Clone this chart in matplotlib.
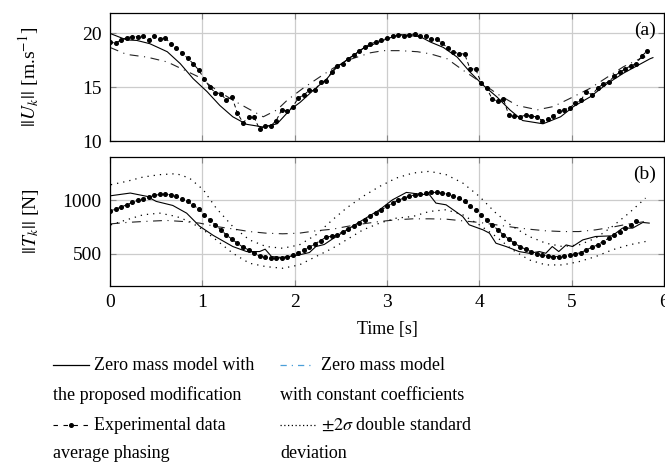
import numpy as np
import matplotlib
matplotlib.use('Agg')
import matplotlib.pyplot as plt
from matplotlib.lines import Line2D

plt.rcParams['font.family'] = ['Liberation Serif', 'DejaVu Serif']
plt.rcParams['mathtext.fontset'] = 'stix'

# --- panel (a): velocity ---
u_exp = [19.2, 19.1, 19.4, 19.6, 19.7, 19.7, 19.8, 19.4, 19.8, 19.5,
         19.6, 19.0, 18.6, 18.2, 17.7, 17.2, 16.6, 15.8, 15.0, 14.5,
         14.4, 13.8, 14.1, 12.6, 11.7, 12.2, 12.2, 11.1, 11.4, 11.4,
         11.9, 12.9, 12.8, 13.2, 14.0, 14.3, 14.7, 14.7, 15.5, 15.6,
         16.4, 17.0, 17.2, 17.65, 17.96, 18.36, 18.73, 19.04, 19.2, 19.4,
         19.6, 19.8, 19.85, 19.8, 19.85, 19.97, 19.75, 19.75, 19.45, 19.45,
         19.1, 18.6, 18.3, 18.1, 18.1, 16.7, 16.7, 15.4, 14.9, 13.9,
         13.7, 13.9, 12.4, 12.3, 12.25, 12.4, 12.3, 12.25, 11.9, 12.0,
         12.3, 12.8, 12.9, 13.1, 13.5, 13.8, 14.6, 14.3, 14.9, 15.3,
         15.5, 16.0, 16.4, 16.7, 17.0, 17.2, 17.9, 18.4]
t_u_exp = np.arange(len(u_exp)) * 0.06

t_u_mod = [0.00, 0.18, 0.29, 0.43, 0.62, 0.76, 0.90, 1.05, 1.19, 1.33, 1.48, 1.66,
           1.81, 1.95, 2.06, 2.20, 2.35, 2.46, 2.74, 3.00, 3.14, 3.36, 3.47, 3.61,
           3.76, 3.90, 4.04, 4.19, 4.33, 4.47, 4.69, 4.88, 5.02, 5.20, 5.38, 5.56,
           5.71, 5.85, 5.88]
u_mod = [20.0, 19.4, 19.35, 19.05, 18.3, 17.2, 15.8, 14.6, 13.3, 12.25, 11.55, 11.3,
         11.6, 12.9, 13.6, 14.7, 15.8, 16.9, 18.6, 19.5, 19.9, 19.7, 19.2, 18.7,
         17.8, 16.4, 15.2, 14.1, 12.9, 11.9, 11.6, 12.25, 13.2, 14.1, 15.3, 16.3,
         17.0, 17.65, 17.75]

t_u_const = [0.00, 0.18, 0.40, 0.62, 0.95, 1.16, 1.33, 1.52, 1.66, 1.81, 1.92, 2.09,
             2.28, 2.46, 2.57, 2.82, 2.96, 3.14, 3.33, 3.47, 3.65, 3.82, 4.01, 4.19,
             4.41, 4.63, 4.80, 4.98, 5.20, 5.38, 5.56, 5.74, 5.85]
u_const = [18.7, 18.05, 17.8, 17.35, 16.0, 14.7, 13.8, 12.9, 12.25, 12.9, 13.8, 14.9,
           16.0, 17.0, 17.5, 18.2, 18.4, 18.4, 18.3, 18.1, 17.65, 16.6, 15.5, 14.4,
           13.3, 12.9, 13.2, 13.95, 14.9, 15.9, 16.9, 17.65, 18.0]

# --- panel (b): tension ---
f_exp = [903, 919, 938, 959, 981, 1000, 1016, 1031, 1047, 1056,
         1059, 1053, 1038, 1016, 991, 959, 919, 866, 819, 772,
         725, 678, 638, 600, 563, 538, 506, 481, 469, 459,
         459, 463, 475, 491, 513, 538, 563, 594, 625, 656, 665,
         678, 709, 734, 763, 788, 819, 850, 881, 913, 944,
         975, 1000, 1022, 1038, 1053, 1059, 1069, 1075, 1075, 1069,
         1059, 1044, 1022, 991, 944, 913, 866, 819, 772, 725,
         678, 638, 600, 569, 544, 522, 500, 491, 481, 475,
         475, 481, 491, 500, 513, 538, 563, 584, 616, 647,
         678, 709, 741, 772, 803]
t_f_exp = np.arange(len(f_exp)) * 0.06

t_f_mod = [0.01, 0.22, 0.40, 0.50, 0.68, 0.83, 0.97, 1.12, 1.33, 1.48, 1.62, 1.68,
           1.75, 1.87, 2.05, 2.16, 2.23, 2.32, 2.41, 2.74, 2.92, 3.06, 3.21, 3.35,
           3.46, 3.53, 3.64, 3.82, 3.89, 4.04, 4.11, 4.18, 4.29, 4.43, 4.54, 4.65,
           4.72, 4.79, 4.86, 4.94, 5.01, 5.12, 5.26, 5.44, 5.55, 5.66, 5.77, 5.84]
f_mod = [1044, 1069, 1038, 991, 953, 881, 759, 672, 569, 522, 522, 544,
         475, 466, 491, 513, 569, 588, 640, 819, 913, 1006, 1075, 1059,
         1053, 975, 959, 850, 772, 725, 694, 600, 569, 522, 506, 522,
         506, 569, 522, 584, 569, 631, 663, 669, 741, 741, 794, 788]

t_f_const = [0.01, 0.18, 0.36, 0.61, 0.79, 0.97, 1.15, 1.33, 1.51, 1.69, 1.87, 2.05,
             2.23, 2.41, 2.56, 2.74, 2.92, 3.10, 3.28, 3.46, 3.64, 3.82, 4.00, 4.18,
             4.36, 4.54, 4.72, 4.90, 5.08, 5.26, 5.44, 5.62, 5.80]
f_const = [781, 794, 803, 813, 803, 788, 756, 734, 709, 694, 688, 694,
           716, 731, 756, 781, 803, 819, 828, 828, 825, 809, 794, 772,
           750, 731, 716, 709, 709, 725, 750, 781, 803]

t_sigma = [0.01, 0.18, 0.36, 0.54, 0.72, 0.86, 1.01, 1.15, 1.33, 1.51, 1.69, 1.87,
           2.05, 2.23, 2.41, 2.56, 2.74, 2.92, 3.10, 3.28, 3.46, 3.64, 3.82, 4.00,
           4.18, 4.36, 4.54, 4.72, 4.90, 5.08, 5.26, 5.44, 5.62, 5.80]
f_upper = [1147, 1178, 1219, 1241, 1250, 1209, 1100, 928, 756, 631, 569, 553,
           584, 678, 819, 928, 1038, 1131, 1209, 1256, 1272, 1241, 1163, 1038,
           881, 756, 663, 600, 569, 584, 647, 756, 881, 1022]
f_lower = [772, 819, 866, 881, 850, 803, 725, 631, 506, 413, 381, 366,
           397, 475, 553, 631, 725, 788, 834, 850, 897, 913, 866, 772,
           663, 538, 444, 397, 397, 428, 475, 538, 584, 616]

W, H = 665, 465
fig = plt.figure(figsize=(W / 100, H / 100), dpi=100)
ax_a = fig.add_axes([110 / W, 1 - 141 / H, 554 / W, 128 / H])
ax_b = fig.add_axes([110 / W, 1 - 286 / H, 554 / W, 129 / H])

const_style = (0, (8, 5, 1, 5))
exp_style = (0, (4, 3))
ms = 2.6

ax_a.plot(t_u_mod, u_mod, color='black', lw=0.8)
ax_a.plot(t_u_const, u_const, color='#222222', lw=0.8, linestyle=const_style)
ax_a.plot(t_u_exp, u_exp, color='black', lw=0.7, linestyle=exp_style,
          marker='o', markersize=ms)

ax_b.plot(t_f_mod, f_mod, color='black', lw=0.8)
ax_b.plot(t_f_const, f_const, color='#222222', lw=0.8, linestyle=const_style)
ax_b.plot(t_f_exp, f_exp, color='black', lw=0.7, linestyle=exp_style,
          marker='o', markersize=ms)
ax_b.plot(t_sigma, f_upper, color='black', lw=0.9, linestyle=(0, (1, 4)))
ax_b.plot(t_sigma, f_lower, color='black', lw=0.9, linestyle=(0, (1, 4)))

for ax in (ax_a, ax_b):
    ax.set_xlim(0, 6)
    ax.set_xticks(range(0, 7))
    ax.grid(True, color='#cccccc', lw=0.9)
    ax.set_axisbelow(True)
    ax.tick_params(direction='in', length=4, color='#888888', top=True, right=True,
                   labelsize=14, pad=6)
    for s in ax.spines.values():
        s.set_linewidth(0.9)

ax_a.set_ylim(10, 21.9)
ax_a.set_yticks([10, 15, 20])
ax_a.tick_params(labelbottom=False)
ax_b.set_ylim(200, 1406)
ax_b.set_yticks([500, 1000])

ax_a.set_ylabel(r'$||U_k||$ [m.s$^{\mathrm{-1}}$]', fontsize=14)
ax_b.set_ylabel(r'$||T_k||$ [N]', fontsize=14)
ax_a.yaxis.set_label_coords(-0.125, 0.5)
ax_b.yaxis.set_label_coords(-0.125, 0.5)
ax_b.set_xlabel('Time [s]', fontsize=13, labelpad=7)

ax_a.text(0.985, 0.93, '(a)', transform=ax_a.transAxes, ha='right', va='top', fontsize=14)
ax_b.text(0.985, 0.93, '(b)', transform=ax_b.transAxes, ha='right', va='top', fontsize=14)

# legend drawn by hand, text wraps under the handle as in the original
def fx(px):
    return px / W

def fy(py):
    return 1 - py / H

fs = 13
fig.add_artist(Line2D([fx(53), fx(89)], [fy(365), fy(365)], color='black', lw=0.9))
fig.text(fx(94), fy(365), 'Zero mass model with', fontsize=fs, va='center')
fig.text(fx(53), fy(395), 'the proposed modification', fontsize=fs, va='center')
fig.add_artist(Line2D([fx(53), fx(71), fx(89)], [fy(425)] * 3, color='black', lw=0.8,
                      linestyle=(0, (4, 5)), marker='o', markersize=ms, markevery=[1]))
fig.text(fx(94), fy(425), 'Experimental data', fontsize=fs, va='center')
fig.text(fx(53), fy(453), 'average phasing', fontsize=fs, va='center')

fig.add_artist(Line2D([fx(280), fx(312)], [fy(365), fy(365)], color='#4a9fd8', lw=0.9,
                      linestyle=(0, (5, 4, 1, 4))))
fig.text(fx(321), fy(365), 'Zero mass model', fontsize=fs, va='center')
fig.text(fx(280), fy(395), 'with constant coefficients', fontsize=fs, va='center')
fig.add_artist(Line2D([fx(280), fx(316)], [fy(425), fy(425)], color='black', lw=0.9,
                      linestyle=(0, (1, 2))))
fig.text(fx(321), fy(425), r'$\pm2\sigma$ double standard', fontsize=fs, va='center')
fig.text(fx(280), fy(453), 'deviation', fontsize=fs, va='center')

fig.savefig('out.png', dpi=100)
